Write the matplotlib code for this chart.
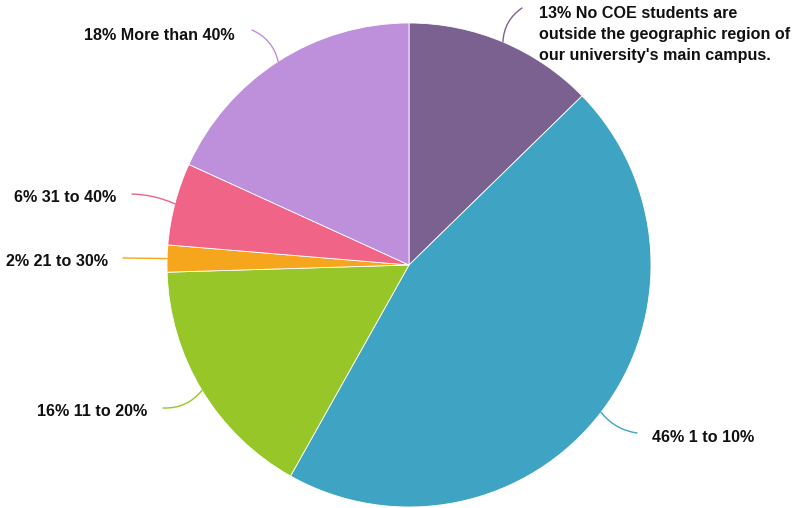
import numpy as np
import matplotlib.pyplot as plt

plt.rcParams['font.family'] = ['Liberation Sans', 'DejaVu Sans']

# slice shares, starting at 12 o'clock, clockwise
labels = ["13% No COE students are\noutside the geographic region of\nour university's main campus.",
          "46% 1 to 10%", "16% 11 to 20%", "2% 21 to 30%", "6% 31 to 40%", "18% More than 40%"]
values = [12.7, 45.5, 16.4, 1.8, 5.5, 18.2]
colors = ['#7b6190', '#3fa3c3', '#96c628', '#f5a61d', '#f06488', '#be8fdb']

W, H = 795, 508
cx, cy, R = 409, H - 265, 242

# where each label goes (pixel coords, y from top), alignment, curve of the leader line
label_xy = [(539, 6), (652, 438), (147, 411), (108, 262), (116, 198), (235, 35)]
label_ha = ['left', 'left', 'right', 'right', 'right', 'right']
label_va = ['top', 'center', 'center', 'center', 'center', 'center']
line_end = [(522, 8), (637, 433), (163, 408), (123, 258), (132, 194), (252, 30)]
line_rad = [0.25, -0.2, 0.25, 0.0, -0.1, -0.25]

fig = plt.figure(figsize=(W / 100, H / 100), dpi=100)
ax = fig.add_axes([0, 0, 1, 1])

wedges, _ = ax.pie(values, colors=colors, startangle=90, counterclock=False,
                   center=(cx, cy), radius=R, frame=True,
                   wedgeprops=dict(edgecolor='white', linewidth=0.6))
ax.set_xlim(0, W)
ax.set_ylim(0, H)
ax.axis('off')

for w, lab, (tx, ty), ha, va, (ex, ey), rad, c in zip(
        wedges, labels, label_xy, label_ha, label_va, line_end, line_rad, colors):
    mid = np.deg2rad((w.theta1 + w.theta2) / 2)
    sx, sy = cx + R * np.cos(mid), cy + R * np.sin(mid)
    ax.annotate('', xy=(sx, sy), xytext=(ex, H - ey),
                arrowprops=dict(arrowstyle='-', color=c, lw=1.0,
                                connectionstyle='arc3,rad=%s' % rad,
                                shrinkA=0, shrinkB=0))
    ax.text(tx, H - ty, lab, ha=ha, va=va, fontsize=11.6, fontweight='bold',
            color='#111111', linespacing=1.5)

fig.savefig('out.png', dpi=100)
